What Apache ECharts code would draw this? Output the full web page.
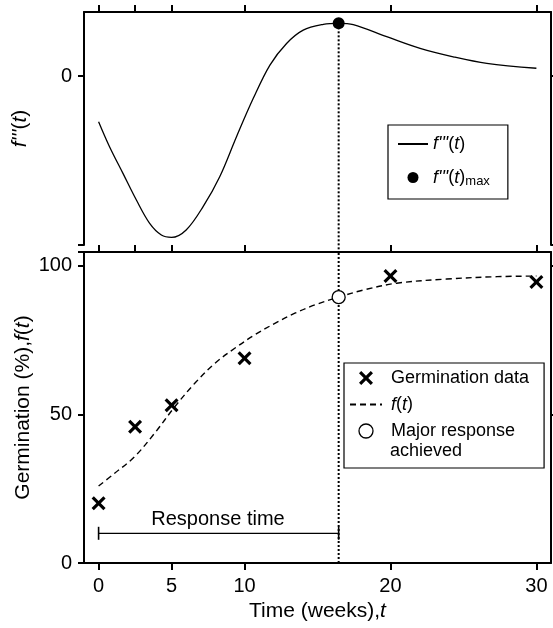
<!DOCTYPE html>
<html>
<head>
<meta charset="utf-8">
<script src="https://cdn.jsdelivr.net/npm/echarts@6/dist/echarts.min.js"></script>
<style>
  html, body { margin: 0; padding: 0; background: #fff; }
  #chart { width: 553px; height: 628px; }
</style>
</head>
<body>
<div id="chart"></div>
<script>
// top panel: third derivative f'''(t) (arbitrary units)
const d3Time = [0, 0.75, 1.67, 2.59, 3.5, 4.3, 5.0, 6.0, 7.16, 8.3, 9.45, 10.6, 11.74, 12.88, 14.02, 15.4, 16.45, 17.45, 19.74, 22.03, 24.3, 26.6, 30];
const d3Value = [-0.27, -0.418, -0.576, -0.734, -0.872, -0.941, -0.955, -0.911, -0.773, -0.596, -0.359, -0.132, 0.065, 0.193, 0.272, 0.306, 0.312, 0.304, 0.233, 0.164, 0.114, 0.075, 0.046];
const d3Peak = [16.45, 0.312];

// bottom panel: germination (%)
const germTime = [0, 2.5, 5, 10, 20, 30];
const germValue = [20.1, 45.9, 53.1, 68.9, 96.6, 94.6];
const fitTime = [0, 1.1, 2.47, 3.84, 5.22, 6.59, 7.96, 9.33, 10.7, 12.08, 13.45, 14.83, 16.45, 18.14, 20.43, 23.86, 27.3, 30];
const fitValue = [25.9, 30.2, 35.8, 43.7, 52.6, 60.5, 67.2, 72.3, 76.8, 80.7, 84.1, 86.9, 89.5, 91.9, 94.2, 95.6, 96.4, 96.6];
const majorResponse = [16.45, 89.5];
const responseLevel = 10;

// ticks
const sampleTicks = [0, 2.5, 5, 10, 20, 30];
const timeTicks = [0, 5, 10, 20, 30];
const germTicks = [0, 50, 100];
const d3Ticks = [0];

const X_MIN = -1, X_MAX = 31;
const TOP_MIN = -1, TOP_MAX = 0.379;
const BOT_MIN = 0, BOT_MAX = 104.7;

const FONT = "'Liberation Sans', Arial, Helvetica, sans-serif";
const BLACK = '#000';
const X_PATH = 'path://M0,1.6 L1.6,0 L5,3.4 L8.4,0 L10,1.6 L6.6,5 L10,8.4 L8.4,10 L5,6.6 L1.6,10 L0,8.4 L3.4,5 Z';

const pairs = (xs, ys) => xs.map((x, i) => [x, ys[i]]);

const italic = (size, lh) => ({ fontStyle: 'italic', fontSize: size, fontFamily: FONT, color: BLACK, lineHeight: lh, verticalAlign: 'middle' });
const plain = (size, lh) => ({ fontSize: size, fontFamily: FONT, color: BLACK, lineHeight: lh, verticalAlign: 'middle' });

const legendText = {
  "f'''(t)": "{i|f'''}{n|(}{i|t}{n|)}",
  "f'''(t)max": "{i|f'''}{n|(}{i|t}{n|)}{sub|max}",
  'Germination data': '{n|Germination data}',
  'f(t)': '{i|f}{n|(}{i|t}{n|)}',
  'Major response achieved': '{n|Major response}'
};

const axisLine = { onZero: false, lineStyle: { color: BLACK, width: 2 } };
const tick = (values, len) => ({ show: true, customValues: values, length: len, lineStyle: { color: BLACK, width: 2 } });
const noLabel = { show: false };
const hideSymbol = { opacity: 0 };

const chart = echarts.init(document.getElementById('chart'), null, { renderer: 'canvas' });

chart.setOption({
  animation: false,
  backgroundColor: '#fff',
  grid: [
    { left: 84, top: 12, width: 467, height: 233, containLabel: false, outerBoundsMode: 'none' },
    { left: 84, top: 252, width: 467, height: 311, containLabel: false, outerBoundsMode: 'none' }
  ],
  xAxis: [
    { gridIndex: 0, type: 'value', position: 'top', min: X_MIN, max: X_MAX,
      axisLine, axisTick: tick(sampleTicks, 7), axisLabel: noLabel, splitLine: { show: false } },
    { gridIndex: 1, type: 'value', position: 'bottom', min: X_MIN, max: X_MAX,
      axisLine, axisTick: tick(timeTicks, 7),
      axisLabel: { customValues: timeTicks, margin: 13, fontSize: 20, fontFamily: FONT, color: BLACK },
      splitLine: { show: false },
      name: 'Time (weeks),{i|t}', nameLocation: 'middle', nameGap: 38, nameMoveOverlap: false,
      nameTextStyle: { fontSize: 21, fontFamily: FONT, color: BLACK, rich: { i: italic(21) } } },
    { gridIndex: 1, type: 'value', position: 'top', min: X_MIN, max: X_MAX,
      axisLine, axisTick: tick(sampleTicks, 7), axisLabel: noLabel, splitLine: { show: false } }
  ],
  yAxis: [
    { gridIndex: 0, type: 'value', position: 'left', min: TOP_MIN, max: TOP_MAX,
      axisLine, axisTick: tick([...d3Ticks, TOP_MIN], 6),
      axisLabel: { customValues: d3Ticks, margin: 12, fontSize: 20, fontFamily: FONT, color: BLACK },
      splitLine: { show: false },
      name: "{i|f'''}{n|(}{i|t}{n|)}", nameLocation: 'middle', nameGap: 53, nameMoveOverlap: false,
      nameTextStyle: { fontSize: 21, fontFamily: FONT, color: BLACK, rich: { i: italic(21), n: plain(21) } } },
    { gridIndex: 0, type: 'value', position: 'right', min: TOP_MIN, max: TOP_MAX,
      axisLine, axisTick: tick([...d3Ticks, TOP_MIN], 4), axisLabel: noLabel, splitLine: { show: false } },
    { gridIndex: 1, type: 'value', position: 'left', min: BOT_MIN, max: BOT_MAX,
      axisLine, axisTick: tick([...germTicks, BOT_MAX], 6),
      axisLabel: { customValues: germTicks, margin: 12, fontSize: 20, fontFamily: FONT, color: BLACK },
      splitLine: { show: false },
      name: 'Germination (%),{i|f}{n|(}{i|t}{n|)}', nameLocation: 'middle', nameGap: 50, nameMoveOverlap: false,
      nameTextStyle: { fontSize: 21, fontFamily: FONT, color: BLACK, rich: { i: italic(21), n: plain(21) } } },
    { gridIndex: 1, type: 'value', position: 'right', min: BOT_MIN, max: BOT_MAX,
      axisLine, axisTick: tick([50, 100], 4), axisLabel: noLabel, splitLine: { show: false } }
  ],
  legend: [
    {
      data: [{ name: "f'''(t)", itemStyle: hideSymbol }, "f'''(t)max"],
      left: 388, top: 125, orient: 'vertical',
      itemWidth: 30, itemHeight: 11, itemGap: 7.5,
      padding: [8.5, 18, 11, 9],
      borderColor: BLACK, borderWidth: 1.2, selectedMode: false,
      formatter: (name) => legendText[name],
      textStyle: {
        fontSize: 18, fontFamily: FONT, color: BLACK, lineHeight: 21,
        rich: {
          i: italic(18, 21), n: plain(18, 21),
          sub: { fontSize: 13, fontFamily: FONT, color: BLACK, verticalAlign: 'bottom', lineHeight: 13, padding: [13, 0, 0, 0] }
        }
      }
    },
    {
      data: [
        'Germination data',
        { name: 'f(t)', itemStyle: hideSymbol },
        { name: 'Major response achieved', itemStyle: { borderWidth: 1.3 } }
      ],
      left: 344, top: 363, orient: 'vertical',
      itemWidth: 32, itemHeight: 14, itemGap: 5.5,
      padding: [4.5, 15, 26.5, 5],
      borderColor: BLACK, borderWidth: 1.2, selectedMode: false,
      formatter: (name) => legendText[name],
      textStyle: {
        fontSize: 18, fontFamily: FONT, color: BLACK, lineHeight: 21, padding: [0, 0, 0, 4],
        rich: { i: italic(18, 21), n: plain(18, 21) }
      }
    }
  ],
  graphic: [
    { type: 'text', left: 390, top: 442, style: { text: 'achieved', font: '18px ' + FONT, fill: BLACK } }
  ],
  series: [
    {
      name: "f'''(t)", type: 'line', xAxisIndex: 0, yAxisIndex: 0,
      data: pairs(d3Time, d3Value), smooth: 0.35, symbol: 'none',
      lineStyle: { color: BLACK, width: 1.3 }, itemStyle: { color: BLACK }
    },
    {
      name: "f'''(t)max", type: 'scatter', xAxisIndex: 0, yAxisIndex: 0,
      data: [d3Peak], symbol: 'circle', symbolSize: 12, itemStyle: { color: BLACK, opacity: 1 }, z: 5
    },
    {
      name: 'guideTop', type: 'line', xAxisIndex: 0, yAxisIndex: 0, clip: false, silent: true,
      data: [d3Peak, [d3Peak[0], TOP_MIN - 0.042]], symbol: 'none',
      lineStyle: { color: BLACK, width: 2, type: [2, 2] }, z: 1
    },
    {
      name: 'guideBottom', type: 'line', xAxisIndex: 1, yAxisIndex: 2, silent: true,
      data: [[majorResponse[0], BOT_MIN], [majorResponse[0], BOT_MAX]], symbol: 'none',
      lineStyle: { color: BLACK, width: 2, type: [2, 2] }, z: 1
    },
    {
      name: 'Germination data', type: 'scatter', xAxisIndex: 1, yAxisIndex: 2,
      data: pairs(germTime, germValue), symbol: X_PATH, symbolSize: 14,
      itemStyle: { color: BLACK, opacity: 1 }, z: 5
    },
    {
      name: 'f(t)', type: 'line', xAxisIndex: 1, yAxisIndex: 2,
      data: pairs(fitTime, fitValue), smooth: 0.35, symbol: 'none',
      lineStyle: { color: BLACK, width: 1.4, type: [6, 4] }, itemStyle: { color: BLACK }
    },
    {
      name: 'Major response achieved', type: 'scatter', xAxisIndex: 1, yAxisIndex: 2,
      data: [majorResponse], symbol: 'circle', symbolSize: 13,
      itemStyle: { color: '#fff', borderColor: BLACK, borderWidth: 1.3, opacity: 1 }, z: 6
    },
    {
      name: 'responseBar', type: 'line', xAxisIndex: 1, yAxisIndex: 2, silent: true,
      data: [[0, responseLevel], [majorResponse[0], responseLevel]],
      symbol: 'rect', symbolSize: [1.6, 13], showSymbol: true, showAllSymbol: true,
      lineStyle: { color: BLACK, width: 1.2 }, itemStyle: { color: BLACK }, z: 3
    },
    {
      name: 'responseLabel', type: 'scatter', xAxisIndex: 1, yAxisIndex: 2, silent: true,
      data: [[8.18, 14.8]], symbolSize: 0, itemStyle: { color: 'transparent', opacity: 1 },
      label: { show: true, position: 'inside', formatter: 'Response time', fontSize: 20, fontFamily: FONT, color: BLACK }
    }
  ]
});
</script>
</body>
</html>
